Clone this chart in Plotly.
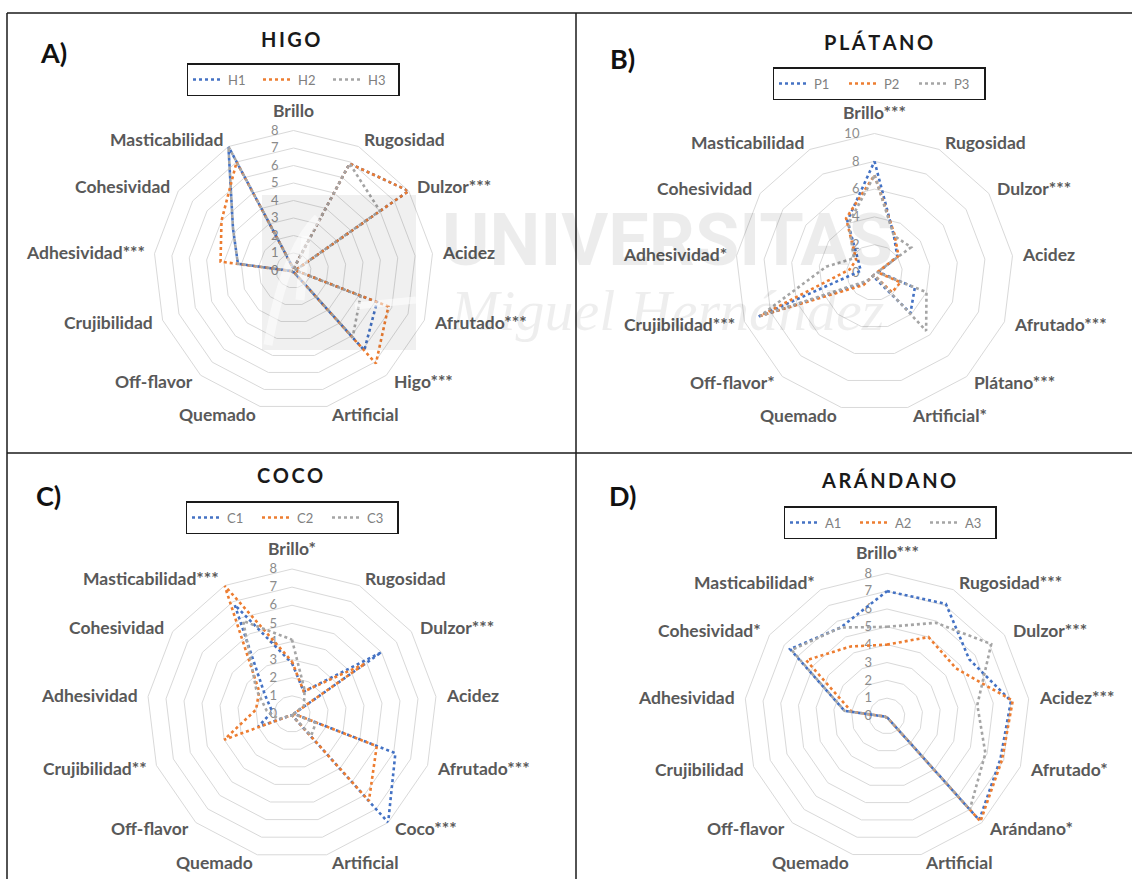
import math
import plotly.graph_objects as go

W, H = 1132, 879

# ---- data -------------------------------------------------------------
cats_higo = ["Brillo", "Rugosidad", "Dulzor***", "Acidez", "Afrutado***", "Higo***",
             "Artificial", "Quemado", "Off-flavor", "Crujibilidad", "Adhesividad***",
             "Cohesividad", "Masticabilidad"]
h1 = [0.1, 6.9, 8.0, 0.1, 5.1, 6.1, 0.1, 0.1, 0.1, 0.1, 3.2, 4.2, 8.0]
h2 = [0.1, 6.9, 8.0, 0.1, 5.8, 7.1, 0.1, 0.1, 0.1, 0.1, 4.2, 5.0, 7.0]
h3 = [0.1, 6.9, 6.0, 0.1, 4.1, 5.1, 0.1, 0.1, 0.1, 0.1, 3.2, 4.2, 8.0]

cats_platano = ["Brillo***", "Rugosidad", "Dulzor***", "Acidez", "Afrutado***", "Plátano***",
                "Artificial*", "Quemado", "Off-flavor*", "Crujibilidad***", "Adhesividad*",
                "Cohesividad", "Masticabilidad"]
p1 = [8.0, 3.0, 2.0, 0.3, 3.1, 3.9, 0.5, 0.2, 1.0, 9.0, 1.0, 1.4, 4.2]
p2 = [7.0, 3.1, 2.1, 0.2, 2.0, 1.9, 0.3, 0.2, 1.2, 8.8, 1.8, 1.6, 4.4]
p3 = [7.0, 3.0, 3.2, 0.2, 4.0, 5.6, 0.3, 0.2, 0.8, 8.8, 3.5, 1.8, 4.0]

cats_coco = ["Brillo*", "Rugosidad", "Dulzor***", "Acidez", "Afrutado***", "Coco***",
             "Artificial", "Quemado", "Off-flavor", "Crujibilidad**", "Adhesividad",
             "Cohesividad", "Masticabilidad***"]
c1 = [2.8, 1.4, 6.0, 0.1, 6.1, 8.0, 0.1, 0.1, 0.1, 2.0, 1.1, 1.8, 6.8]
c2 = [2.9, 1.4, 4.9, 0.1, 5.0, 6.4, 0.1, 0.1, 0.1, 4.0, 2.0, 2.2, 8.0]
c3 = [4.1, 1.5, 0.8, 0.1, 1.4, 1.6, 0.1, 0.1, 0.1, 0.8, 1.4, 2.4, 5.8]

cats_arandano = ["Brillo***", "Rugosidad***", "Dulzor***", "Acidez***", "Afrutado*", "Arándano*",
                 "Artificial", "Quemado", "Off-flavor", "Crujibilidad", "Adhesividad",
                 "Cohesividad*", "Masticabilidad*"]
a1 = [7.0, 7.1, 5.6, 7.0, 6.8, 7.8, 0.1, 0.1, 0.1, 0.1, 2.4, 6.6, 5.6]
a2 = [4.0, 5.0, 4.7, 7.1, 6.9, 7.9, 0.1, 0.1, 0.1, 0.1, 2.0, 5.5, 4.4]
a3 = [5.0, 5.9, 7.1, 5.1, 5.9, 7.0, 0.1, 0.1, 0.1, 0.1, 2.4, 6.5, 5.6]

series_colors = ["#4472C4", "#ED7D31", "#A5A5A5"]

panels = [
    dict(title="HIGO", tag="A)", cats=cats_higo, names=["H1", "H2", "H3"], vals=[h1, h2, h3],
         rmax=8, dtick=1, center=(293.5, 270.5), radius=140,
         title_pos=(291, 39), tag_pos=(53, 52), legend_pos=(293, 63)),
    dict(title="PLÁTANO", tag="B)", cats=cats_platano, names=["P1", "P2", "P3"], vals=[p1, p2, p3],
         rmax=10, dtick=2, center=(874.5, 272.5), radius=139,
         title_pos=(878, 42), tag_pos=(622, 58), legend_pos=(879, 67)),
    dict(title="COCO", tag="C)", cats=cats_coco, names=["C1", "C2", "C3"], vals=[c1, c2, c3],
         rmax=8, dtick=1, center=(292, 714), radius=145,
         title_pos=(290, 475), tag_pos=(48, 495), legend_pos=(292, 501)),
    dict(title="ARÁNDANO", tag="D)", cats=cats_arandano, names=["A1", "A2", "A3"], vals=[a1, a2, a3],
         rmax=8, dtick=1, center=(887, 716), radius=142.7,
         title_pos=(888, 480), tag_pos=(622, 495), legend_pos=(890, 506)),
]

LABEL_FONT = dict(family="Lato", size=17.5, color="#595959", weight="bold")
TICK_FONT = dict(family="Lato", size=13, color="#8c8c8c")
LABEL_GAP = 8


def px(x):
    return x / W


def py(y):
    return 1 - y / H


fig = go.Figure()
annotations = []
layout_extra = {}

for i, p in enumerate(panels):
    pid = "polar" if i == 0 else f"polar{i + 1}"
    lid = "legend" if i == 0 else f"legend{i + 1}"
    cx, cy = p["center"]
    r = p["radius"]
    cats = p["cats"]
    theta = cats + [cats[0]]
    for name, vals, col in zip(p["names"], p["vals"], series_colors):
        fig.add_trace(go.Scatterpolar(
            r=vals + [vals[0]], theta=theta, name=name, mode="lines",
            line=dict(color=col, width=2.6, dash="dot"),
            subplot=pid, legend=lid, hoverinfo="skip",
        ))
    layout_extra[pid] = dict(
        domain=dict(x=[px(cx - r), px(cx + r)], y=[py(cy + r), py(cy - r)]),
        gridshape="linear",
        bgcolor="rgba(0,0,0,0)",
        radialaxis=dict(range=[0, p["rmax"]], dtick=p["dtick"], tick0=0,
                        showline=False, ticks="outside", ticklen=10,
                        tickcolor="rgba(0,0,0,0)", gridcolor="#d9d9d9", gridwidth=1,
                        angle=90, side="counterclockwise", tickangle=90,
                        tickfont=TICK_FONT, layer="below traces"),
        angularaxis=dict(rotation=90, direction="clockwise", showgrid=False,
                         showline=True, linecolor="#d9d9d9", linewidth=1, ticks="",
                         showticklabels=False, categoryorder="array",
                         categoryarray=cats, layer="below traces"),
    )

    # category labels sit just outside each spoke of the 13-sided grid
    n = len(cats)
    for k, cat in enumerate(cats):
        ang = 2 * math.pi * k / n
        sx, sy = math.sin(ang), -math.cos(ang)
        lx_ = cx + (r + LABEL_GAP) * sx
        ly_ = cy + (r + LABEL_GAP) * sy
        if k == 0:
            xa, ya = "center", "bottom"
        else:
            xa, ya = ("left" if sx > 0 else "right"), "middle"
        annotations.append(dict(
            text=cat, x=px(lx_), y=py(ly_), xref="paper", yref="paper",
            showarrow=False, xanchor=xa, yanchor=ya, font=LABEL_FONT,
        ))

    lx, ly = p["legend_pos"]
    layout_extra[lid] = dict(
        orientation="h", x=px(lx), y=py(ly), xanchor="center", yanchor="top",
        bgcolor="white", bordercolor="#1a1a1a", borderwidth=1.5,
        font=dict(family="Lato", size=13, color="#808080"),
        entrywidth=25, itemwidth=30, tracegroupgap=0,
    )
    tx, ty = p["title_pos"]
    annotations.append(dict(
        text="\u2009".join(p["title"]), x=px(tx), y=py(ty), xref="paper", yref="paper",
        showarrow=False, xanchor="center", yanchor="middle",
        font=dict(family="Lato", size=20, color="#1a1a1a", weight="bold"),
    ))
    gx, gy = p["tag_pos"]
    annotations.append(dict(
        text=p["tag"], x=px(gx), y=py(gy), xref="paper", yref="paper",
        showarrow=False, xanchor="center", yanchor="middle",
        font=dict(family="Lato", size=27, color="#111111", weight="bold"),
    ))

# repository watermark
annotations.append(dict(
    text="UNIVERSITAS", x=px(667), y=py(240), xref="paper", yref="paper",
    showarrow=False, xanchor="center", yanchor="middle",
    font=dict(family="Roboto", size=72, color="rgba(0,0,0,0.075)", weight="bold"),
))
annotations.append(dict(
    text="<i>Miguel Hernández</i>", x=px(667), y=py(310), xref="paper", yref="paper",
    showarrow=False, xanchor="center", yanchor="middle",
    font=dict(family="Liberation Serif", size=58, color="rgba(0,0,0,0.065)"),
))

line_style = dict(color="#1a1a1a", width=1.5)
shapes = [
    dict(type="line", xref="paper", yref="paper", x0=px(7), x1=1, y0=py(13), y1=py(13), line=line_style),
    dict(type="line", xref="paper", yref="paper", x0=px(7), x1=px(7), y0=py(13), y1=0, line=line_style),
    dict(type="line", xref="paper", yref="paper", x0=px(576), x1=px(576), y0=py(13), y1=0, line=line_style),
    dict(type="line", xref="paper", yref="paper", x0=px(7), x1=1, y0=py(453), y1=py(453), line=line_style),
    # watermark logo block with its pale strokes
    dict(type="rect", xref="paper", yref="paper", x0=px(262), x1=px(416), y0=py(350), y1=py(195),
         fillcolor="rgba(0,0,0,0.06)", line=dict(width=0), layer="above"),
    dict(type="path", xref="paper", yref="paper",
         path=f"M{px(268)},{py(345)} Q{px(285)},{py(250)} {px(318)},{py(218)}",
         line=dict(color="rgba(255,255,255,0.55)", width=9), layer="above"),
    dict(type="path", xref="paper", yref="paper",
         path=f"M{px(300)},{py(300)} L{px(306)},{py(236)}",
         line=dict(color="rgba(255,255,255,0.55)", width=9), layer="above"),
    dict(type="path", xref="paper", yref="paper",
         path=f"M{px(355)},{py(306)} L{px(416)},{py(300)}",
         line=dict(color="rgba(255,255,255,0.55)", width=7), layer="above"),
]

fig.update_layout(
    width=W, height=H, margin=dict(l=0, r=0, t=0, b=0),
    paper_bgcolor="white", plot_bgcolor="white",
    showlegend=True, annotations=annotations, shapes=shapes,
    **layout_extra,
)

fig.write_html("out.html")
